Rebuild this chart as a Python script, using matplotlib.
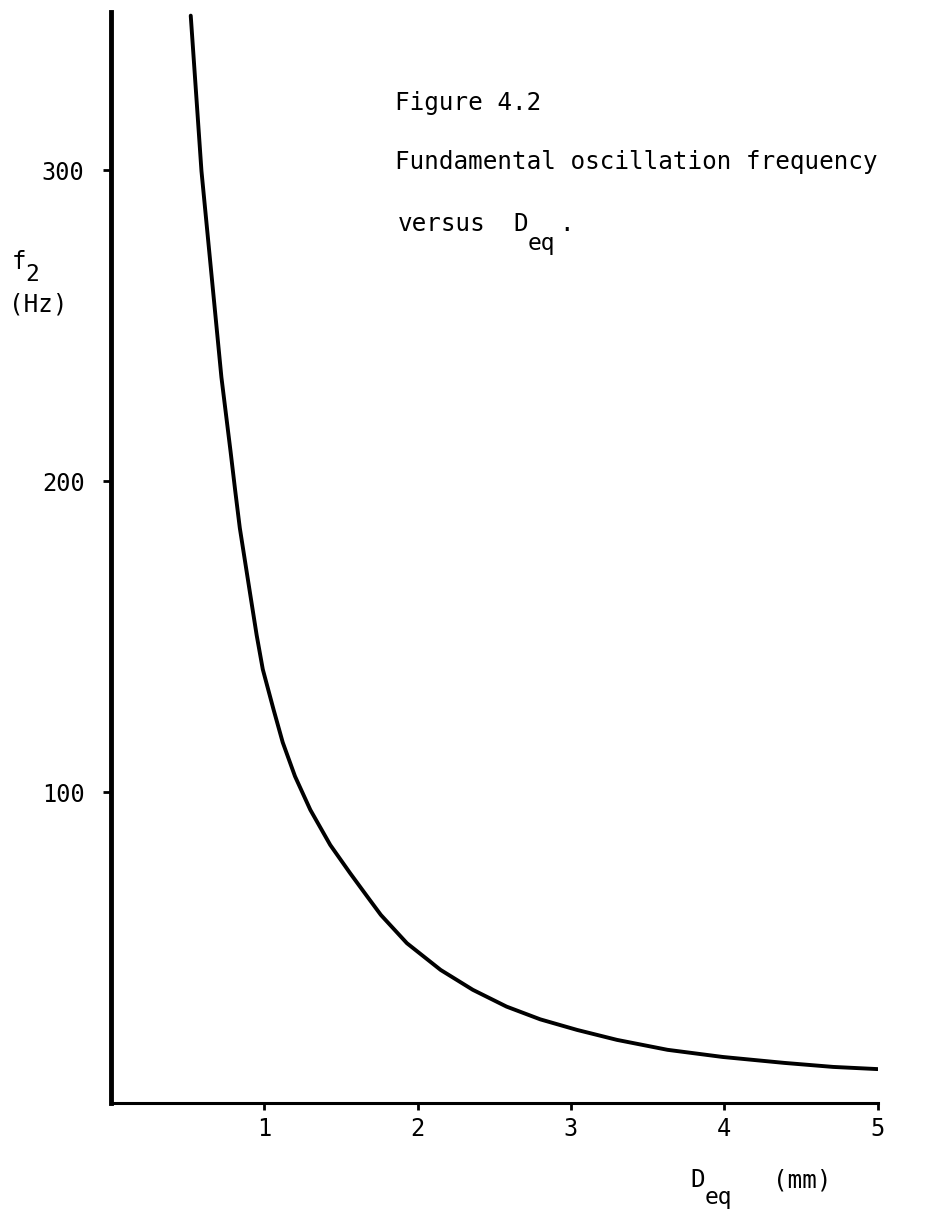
import matplotlib
matplotlib.use("Agg")
import matplotlib.pyplot as plt

# Values
d_eq = [0.52, 0.59, 0.72, 0.78, 0.81, 0.84, 0.875, 0.91, 0.95, 0.99, 1.06, 1.12,
        1.20, 1.30, 1.43, 1.56, 1.67, 1.76, 1.93, 2.15, 2.36, 2.58, 2.80, 3.04,
        3.30, 3.63, 3.99, 4.39, 4.71, 5.00]
f2 = [349.8, 299.8, 233.5, 209.5, 197.0, 185.0, 174.0, 163.0, 150.5, 139.5, 126.6, 116.0,
      105.1, 94.3, 83.0, 73.9, 66.5, 60.5, 51.4, 42.8, 36.4, 31.0, 26.9, 23.5,
      20.3, 17.1, 14.8, 12.9, 11.6, 10.9]

x_ticks = [1, 2, 3, 4, 5]
y_ticks = [100, 200, 300]

plt.rcParams['font.family'] = ['DejaVu Sans Mono', 'DejaVu Sans']

fig = plt.figure(figsize=(9.36, 12.15), dpi=100)
ax = fig.add_axes([0.1186, 0.0922, 0.8190, 0.898])

ax.plot(d_eq, f2, color="black", lw=2.8, solid_capstyle="round", solid_joinstyle="round")

ax.set_xlim(0, 5.0)
ax.set_ylim(0, 351)
ax.set_xticks(x_ticks)
ax.set_yticks(y_ticks)
ax.tick_params(axis="x", direction="out", length=5, width=2, pad=5, labelsize=17)
ax.tick_params(axis="y", direction="out", length=6, width=2, pad=13, labelsize=17)

for s in ["top", "right"]:
    ax.spines[s].set_visible(False)
ax.spines["left"].set_linewidth(3.5)
ax.spines["bottom"].set_linewidth(2.2)

fs = 17.5
# y axis label: f with a dropped subscript 2, then units
fig.text(0.0128, 0.7844, "f", fontsize=fs, ha="left", va="center")
fig.text(0.0267, 0.7737, "2", fontsize=fs - 1, ha="left", va="center")
fig.text(0.0100, 0.7490, "(Hz)", fontsize=fs, ha="left", va="center")

# x axis label
fig.text(0.7372, 0.0288, "D", fontsize=fs, ha="left", va="center")
fig.text(0.7532, 0.0140, "eq", fontsize=fs - 1, ha="left", va="center")
fig.text(0.8259, 0.0288, "(mm)", fontsize=fs, ha="left", va="center")

# caption
fig.text(0.422, 0.9152, "Figure 4.2", fontsize=fs, ha="left", va="center")
fig.text(0.422, 0.8667, "Fundamental oscillation frequency", fontsize=fs, ha="left", va="center")
fig.text(0.425, 0.8156, "versus", fontsize=fs, ha="left", va="center")
fig.text(0.548, 0.8156, "D", fontsize=fs, ha="left", va="center")
fig.text(0.564, 0.7992, "eq", fontsize=fs - 1, ha="left", va="center")
fig.text(0.597, 0.8156, ".", fontsize=fs, ha="left", va="center")

fig.savefig("out.png", dpi=100)
